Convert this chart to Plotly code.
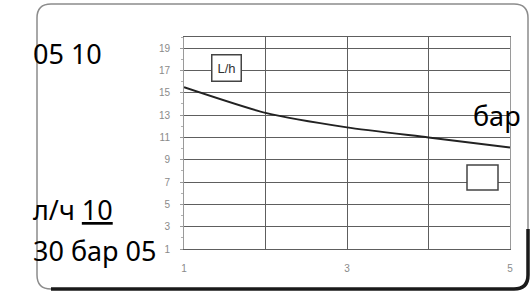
import plotly.graph_objects as go

# ---- data ----
pressure_bar = [1, 2, 3, 4, 5]
flow_lh = [15.5, 13.2, 11.9, 11.0, 10.1]
x_ticks = [1, 2, 3, 4, 5]
x_tick_text = ["1", "", "3", "", "5"]
y_ticks = [1, 3, 5, 7, 9, 11, 13, 15, 17, 19]
unit_label = "L/h"
overlay_texts = ["05 10", "бар", "л/ч <u>10</u>", "30 бар 05"]

W, H = 532, 293


def px(x):
    return x / W


def py(y):
    return 1 - y / H


fig = go.Figure()
fig.add_trace(go.Scatter(
    x=pressure_bar, y=flow_lh, mode="lines",
    line=dict(color="#222222", width=2, shape="spline", smoothing=0.6),
    showlegend=False, hoverinfo="skip",
))

grid_col = "#5e5e5e"
tick_font = dict(family="Liberation Sans, Arial, sans-serif", size=10, color="#8a8a8a")

fig.update_layout(
    width=W, height=H,
    margin=dict(l=0, r=0, t=0, b=0, autoexpand=False),
    paper_bgcolor="white", plot_bgcolor="white",
    showlegend=False,
    xaxis=dict(
        domain=[px(184), px(510)], range=[1, 5],
        tickmode="array", tickvals=x_ticks, ticktext=x_tick_text,
        showgrid=True, gridcolor=grid_col, gridwidth=1,
        showline=True, linecolor=grid_col, linewidth=1, mirror=True,
        zeroline=False, ticks="", tickfont=tick_font,
        ticklabelstandoff=10, automargin=False,
    ),
    yaxis=dict(
        domain=[py(249), py(37)], range=[1, 20],
        tickmode="array", tickvals=y_ticks,
        showgrid=True, gridcolor=grid_col, gridwidth=1,
        showline=True, linecolor="#9a9a9a", linewidth=1, mirror=True,
        zeroline=False, ticks="outside", ticklen=3, tickcolor="#9a9a9a",
        tickfont=tick_font, ticklabelstandoff=8, automargin=False,
        minor=dict(ticks="outside", ticklen=2, tickcolor="#b0b0b0", dtick=1),
    ),
)

# scanned-card frame (rounded rectangle)
r = 14
x0, x1, y0, y1 = 37, 528, 4, 289
frame = (f"M {px(x0)},{py(y0 + r)} Q {px(x0)},{py(y0)} {px(x0 + r)},{py(y0)} "
         f"L {px(x1 - r)},{py(y0)} Q {px(x1)},{py(y0)} {px(x1)},{py(y0 + r)} "
         f"L {px(x1)},{py(y1 - r)} Q {px(x1)},{py(y1)} {px(x1 - r)},{py(y1)} "
         f"L {px(x0 + r)},{py(y1)} Q {px(x0)},{py(y1)} {px(x0)},{py(y1 - r)} Z")
fig.add_shape(type="path", path=frame, xref="paper", yref="paper",
              line=dict(color="#8c8c8c", width=1.5))
bottom = (f"M {px(x0 + r)},{py(y1)} L {px(x1 - r)},{py(y1)} "
          f"Q {px(x1)},{py(y1)} {px(x1)},{py(y1 - r)} L {px(x1)},{py(y1 - 60)}")
fig.add_shape(type="path", path=bottom, xref="paper", yref="paper",
              line=dict(color="#1a1a1a", width=3.5))

# small empty legend-like square
fig.add_shape(type="rect", xref="paper", yref="paper",
              x0=px(467), x1=px(498), y0=py(190), y1=py(165),
              line=dict(color="#444444", width=1.5), fillcolor="white")

# unit box
fig.add_annotation(text=unit_label, xref="paper", yref="paper",
                   x=px(226), y=py(68), xanchor="center", yanchor="middle",
                   showarrow=False,
                   font=dict(family="Liberation Sans, Arial", size=13, color="#333333"),
                   bordercolor="#444444", borderwidth=1.5, borderpad=5, bgcolor="white")

big = dict(family="Noto Sans, Open Sans, sans-serif", size=27, color="black")
positions = [(31, 53), (471, 115), (31, 209), (31, 250)]
for txt, (tx, ty) in zip(overlay_texts, positions):
    fig.add_annotation(text=txt, xref="paper", yref="paper", x=px(tx), y=py(ty),
                       xanchor="left", yanchor="middle", showarrow=False, font=big)

fig.write_html("out.html", config={"displayModeBar": False},
               post_script="document.body.style.margin='0px';document.body.style.overflow='hidden';")
